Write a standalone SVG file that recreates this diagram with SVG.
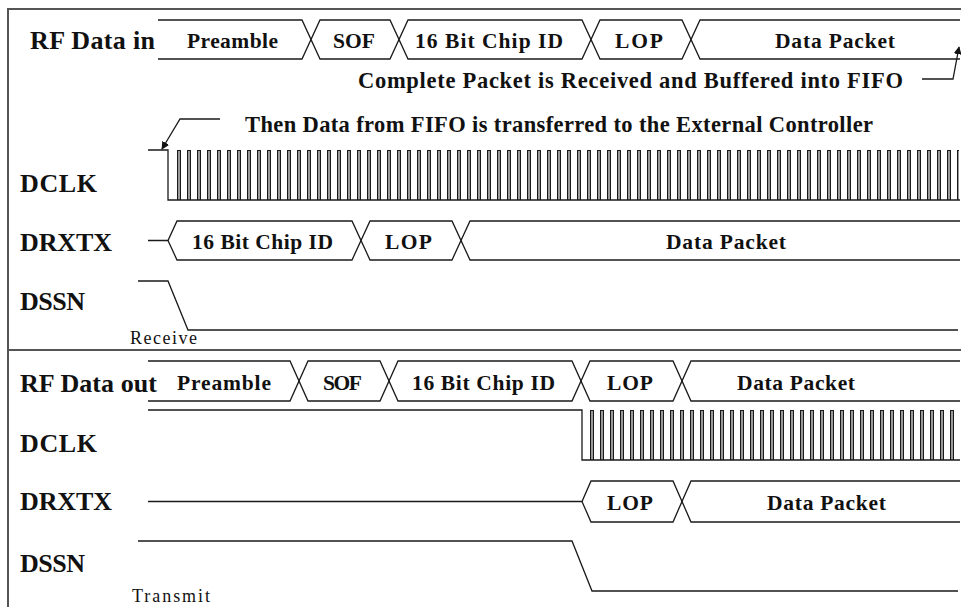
<svg xmlns="http://www.w3.org/2000/svg" width="961" height="607" viewBox="0 0 961 607">
<style>
.sig{fill:none;stroke:#1a1a1a;stroke-width:1.3}
.frame{fill:none;stroke:#555;stroke-width:2}
.lbl{font-family:"Liberation Serif","Times New Roman",serif;font-weight:bold;font-size:26px;fill:#111}
.box{font-family:"Liberation Serif","Times New Roman",serif;font-weight:bold;font-size:21.5px;fill:#111}
.note{font-family:"Liberation Serif","Times New Roman",serif;font-weight:bold;font-size:22.5px;fill:#111}
.small{font-family:"Liberation Serif","Times New Roman",serif;font-size:18px;fill:#111}
</style>
<defs>
<pattern id="clk1" x="177" y="150" width="10" height="50" patternUnits="userSpaceOnUse">
<rect x="0.5" y="0.5" width="3" height="50" fill="#9a9a9a" stroke="#1a1a1a" stroke-width="1"/>
</pattern>
<pattern id="clk2" x="590" y="410" width="10" height="50" patternUnits="userSpaceOnUse">
<rect x="0.5" y="0.5" width="3" height="50" fill="#9a9a9a" stroke="#1a1a1a" stroke-width="1"/>
</pattern>
<marker id="arr" viewBox="0 0 10 10" refX="9" refY="5" markerWidth="8" markerHeight="8" orient="auto" markerUnits="userSpaceOnUse">
<path d="M0,0 L10,5 L0,10 z" fill="#111"/>
</marker>
</defs>
<rect width="961" height="607" fill="#fff"/>
<g id="frame">
<path class="frame" d="M8,607 V9 H961"/>
<path class="frame" d="M8,350 H961"/>
</g>

<g id="rf-data-in">
<text class="lbl" x="30" y="49" textLength="125" lengthAdjust="spacing">RF Data in</text>
<path class="sig" d="M158,20 H302 L320,59 H390 L408,20 H582 L600,59 H682 L700,20 H960"/>
<path class="sig" d="M158,59 H302 L320,20 H390 L408,59 H582 L600,20 H682 L700,59 H960"/>
<text class="box" x="187" y="48" textLength="91" lengthAdjust="spacing">Preamble</text>
<text class="box" x="333" y="48" textLength="42" lengthAdjust="spacing">SOF</text>
<text class="box" x="415" y="48" textLength="148" lengthAdjust="spacing">16 Bit Chip ID</text>
<text class="box" x="615" y="48" textLength="48" lengthAdjust="spacing">LOP</text>
<text class="box" x="775" y="48" textLength="120" lengthAdjust="spacing">Data Packet</text>
</g>

<g id="note-complete">
<text class="note" x="358" y="88" textLength="545" lengthAdjust="spacing">Complete Packet is Received and Buffered into FIFO</text>
</g>
<g id="note-then">
<text class="note" x="245" y="132" textLength="628" lengthAdjust="spacing">Then Data from FIFO is transferred to the External Controller</text>
</g>

<g id="dclk-rx">
<text class="lbl" x="20" y="192" textLength="77" lengthAdjust="spacing">DCLK</text>
<rect x="177" y="150" width="782" height="50" fill="url(#clk1)"/>
<path class="sig" d="M148,150 H168 V200 H960"/>
</g>

<g id="drxtx-rx">
<text class="lbl" x="20" y="251" textLength="92" lengthAdjust="spacing">DRXTX</text>
<path class="sig" d="M148,240.5 H168 L177,221 H352 L370,260 H452 L470,221 H960"/>
<path class="sig" d="M168,240.5 L177,260 H352 L370,221 H452 L470,260 H960"/>
<text class="box" x="192" y="249" textLength="141" lengthAdjust="spacing">16 Bit Chip ID</text>
<text class="box" x="385" y="249" textLength="47" lengthAdjust="spacing">LOP</text>
<text class="box" x="666" y="249" textLength="120" lengthAdjust="spacing">Data Packet</text>
</g>

<g id="dssn-rx">
<text class="lbl" x="20" y="310" textLength="65" lengthAdjust="spacing">DSSN</text>
<path class="sig" d="M138,281 H168 L188,330 H958"/>
<text class="small" x="130" y="344" textLength="67" lengthAdjust="spacing">Receive</text>
</g>

<g id="rf-data-out">
<text class="lbl" x="20" y="392" textLength="137" lengthAdjust="spacing">RF Data out</text>
<path class="sig" d="M148,361 H290 L308,401 H380 L398,361 H572 L590,401 H673 L691,361 H960"/>
<path class="sig" d="M148,401 H290 L308,361 H380 L398,401 H572 L590,361 H673 L691,401 H960"/>
<text class="box" x="177" y="390" textLength="94" lengthAdjust="spacing">Preamble</text>
<text class="box" x="323" y="390" textLength="39" lengthAdjust="spacing">SOF</text>
<text class="box" x="412" y="390" textLength="143" lengthAdjust="spacing">16 Bit Chip ID</text>
<text class="box" x="607" y="390" textLength="46" lengthAdjust="spacing">LOP</text>
<text class="box" x="737" y="390" textLength="118" lengthAdjust="spacing">Data Packet</text>
</g>

<g id="dclk-tx">
<text class="lbl" x="20" y="452" textLength="77" lengthAdjust="spacing">DCLK</text>
<rect x="590" y="410" width="369" height="50" fill="url(#clk2)"/>
<path class="sig" d="M148,410 H582 V460 H960"/>
</g>

<g id="drxtx-tx">
<text class="lbl" x="20" y="510" textLength="92" lengthAdjust="spacing">DRXTX</text>
<path class="sig" d="M148,501.5 H582 L591,481 H673 L691,522 H960"/>
<path class="sig" d="M582,501.5 L591,522 H673 L691,481 H960"/>
<text class="box" x="607" y="510" textLength="46" lengthAdjust="spacing">LOP</text>
<text class="box" x="767" y="510" textLength="119" lengthAdjust="spacing">Data Packet</text>
</g>

<g id="dssn-tx">
<text class="lbl" x="20" y="572" textLength="65" lengthAdjust="spacing">DSSN</text>
<path class="sig" d="M138,541 H572 L592,591 H958"/>
<text class="small" x="132" y="602" textLength="78" lengthAdjust="spacing">Transmit</text>
</g>

<g id="connectors">
<path class="sig" d="M922,79 H953 L959,47" marker-end="url(#arr)"/>
<path class="sig" d="M220,119 H180 L162,149" marker-end="url(#arr)"/>
</g>
</svg>
